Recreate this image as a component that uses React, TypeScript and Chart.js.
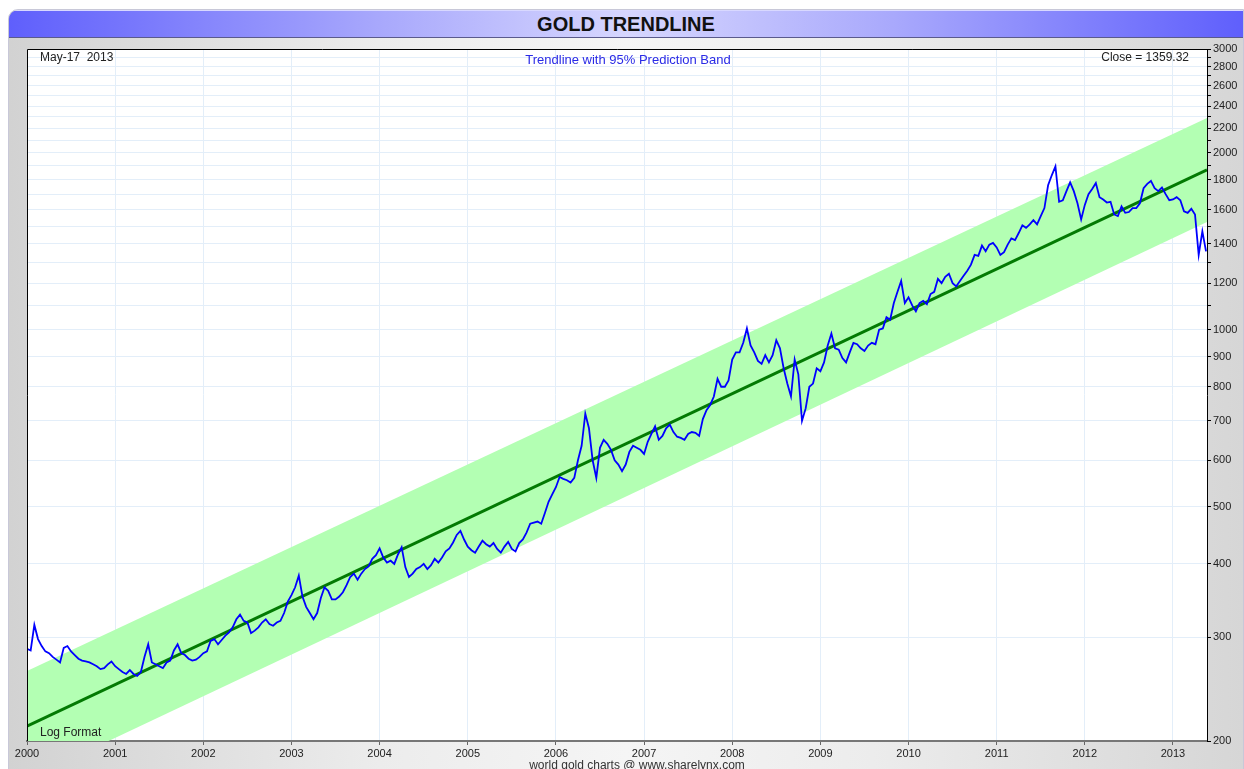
import React, { useEffect, useRef } from "react";
import { Chart, registerables } from "chart.js";

Chart.register(...registerables);

// Gold price, two readings per month (1st and 16th)
const price2000 = [287, 285, 315, 298, 290, 284, 282, 278, 275, 272, 288, 290, 284, 280, 276, 274, 273, 272, 270, 268, 265, 266, 270, 273];
const price2001 = [268, 265, 262, 260, 264, 260, 258, 262, 278, 292, 272, 270, 268, 266, 272, 274, 285, 292, 282, 280, 276, 274, 275, 278];
const price2002 = [282, 284, 296, 298, 292, 297, 302, 306, 312, 322, 328, 320, 318, 305, 308, 312, 318, 322, 316, 314, 318, 320, 330, 345];
const price2003 = [354, 365, 382, 352, 338, 330, 322, 330, 350, 365, 360, 348, 348, 352, 358, 368, 380, 385, 376, 385, 392, 396, 408, 414];
const price2004 = [425, 410, 402, 405, 400, 415, 427, 395, 380, 385, 392, 395, 400, 392, 398, 408, 402, 410, 420, 425, 435, 448, 455, 440];
const price2005 = [428, 422, 418, 428, 438, 432, 428, 434, 424, 418, 428, 436, 424, 420, 434, 440, 452, 468, 470, 472, 468, 488, 510, 525];
const price2006 = [540, 562, 558, 555, 550, 560, 600, 635, 720, 680, 600, 560, 630, 650, 640, 625, 600, 590, 575, 590, 620, 635, 630, 625];
const price2007 = [615, 645, 665, 685, 650, 660, 680, 690, 670, 658, 655, 650, 665, 670, 668, 660, 705, 730, 745, 770, 825, 800, 800, 820];
const price2008 = [890, 915, 915, 950, 1005, 940, 915, 885, 875, 905, 880, 905, 960, 930, 860, 810, 770, 890, 840, 700, 735, 800, 810, 860];
const price2009 = [850, 880, 940, 985, 930, 925, 895, 880, 915, 950, 945, 930, 920, 940, 950, 945, 1000, 1005, 1050, 1040, 1110, 1160, 1210, 1110];
const price2010 = [1135, 1100, 1075, 1110, 1120, 1105, 1150, 1160, 1220, 1200, 1230, 1245, 1200, 1185, 1210, 1235, 1260, 1290, 1340, 1335, 1390, 1360, 1395, 1405];
const price2011 = [1380, 1340, 1355, 1395, 1430, 1420, 1460, 1505, 1490, 1510, 1535, 1510, 1560, 1610, 1760, 1830, 1895, 1650, 1660, 1720, 1780, 1720, 1640, 1540];
const price2012 = [1630, 1700, 1735, 1775, 1680, 1665, 1645, 1650, 1570, 1560, 1620, 1580, 1585, 1610, 1610, 1640, 1740, 1770, 1790, 1740, 1720, 1745, 1700, 1660];
const price2013 = [1665, 1680, 1660, 1590, 1580, 1605, 1570, 1340, 1470, 1359];

const priceYears = [2000, 2001, 2002, 2003, 2004, 2005, 2006, 2007, 2008, 2009, 2010, 2011, 2012, 2013];
const priceSeries = [price2000, price2001, price2002, price2003, price2004, price2005, price2006, price2007, price2008, price2009, price2010, price2011, price2012, price2013];

// Trendline and 95% prediction band end points
const trendX = [2000, 2013.386];
const trendMid = [212, 1869];
const bandUpper = [263, 2290];
const bandLower = [172, 1524];

const xTickYears = [2000, 2001, 2002, 2003, 2004, 2005, 2006, 2007, 2008, 2009, 2010, 2011, 2012, 2013];
const yTickValues = [200, 300, 400, 500, 600, 700, 800, 900, 1000, 1100, 1200, 1300, 1400, 1500, 1600, 1700, 1800, 1900, 2000, 2100, 2200, 2300, 2400, 2500, 2600, 2700, 2800, 2900, 3000];
const yLabelValues = [200, 300, 400, 500, 600, 700, 800, 900, 1000, 1200, 1400, 1600, 1800, 2000, 2200, 2400, 2600, 2800, 3000];

const titleText = "GOLD TRENDLINE";
const subtitleText = "Trendline with 95% Prediction Band";
const dateText = "May-17  2013";
const closeText = "Close = 1359.32";
const logText = "Log Format";
const footerText = "world gold charts @ www.sharelynx.com";

const FONT = '"Liberation Sans", Arial, Helvetica, sans-serif';

export default function App() {
  const canvasRef = useRef<HTMLCanvasElement | null>(null);

  useEffect(() => {
    const canvas = canvasRef.current;
    if (!canvas) return;

    const goldData: { x: number; y: number }[] = [];
    priceSeries.forEach((arr, yi) => {
      arr.forEach((v, i) => goldData.push({ x: priceYears[yi] + i / 24, y: v }));
    });
    const pairs = (ys: number[]) => trendX.map((x, i) => ({ x, y: ys[i] }));

    const decor = {
      id: "decor",
      beforeDraw(chart: any) {
        const { ctx, chartArea: a } = chart;
        ctx.save();
        ctx.fillStyle = "#ffffff";
        ctx.fillRect(a.left, a.top, a.right - a.left, a.bottom - a.top);
        ctx.restore();
      },
      afterDraw(chart: any) {
        const { ctx, chartArea: a } = chart;
        ctx.save();
        ctx.strokeStyle = "#000000";
        ctx.lineWidth = 1;
        ctx.beginPath();
        ctx.moveTo(a.left + 0.5, a.bottom);
        ctx.lineTo(a.left + 0.5, a.top + 0.5);
        ctx.lineTo(a.right, a.top + 0.5);
        ctx.stroke();

        ctx.textBaseline = "middle";
        ctx.font = `12px ${FONT}`;
        ctx.fillStyle = "#222";
        ctx.textAlign = "left";
        ctx.fillText(dateText, a.left + 13, a.top + 9);
        ctx.textAlign = "right";
        ctx.fillText(closeText, a.right - 18, a.top + 9);
        ctx.textAlign = "left";
        ctx.fillText(logText, a.left + 13, a.bottom - 8);

        ctx.font = `13px ${FONT}`;
        ctx.fillStyle = "#2a2ae6";
        ctx.textAlign = "center";
        ctx.fillText(subtitleText, 628, a.top + 11);

        ctx.font = `12px ${FONT}`;
        ctx.fillStyle = "#333";
        ctx.fillText(footerText, 637, 766);
        ctx.restore();
      },
    };

    const chart = new Chart(canvas, {
      type: "line",
      data: {
        datasets: [
          {
            label: "Gold",
            data: goldData,
            borderColor: "#0000ff",
            borderWidth: 1.8,
            pointRadius: 0,
            tension: 0,
            fill: false,
          },
          {
            label: "Trend",
            data: pairs(trendMid),
            borderColor: "#037a03",
            borderWidth: 3,
            pointRadius: 0,
            fill: false,
          },
          {
            label: "Upper",
            data: pairs(bandUpper),
            borderColor: "rgba(0,0,0,0)",
            borderWidth: 0,
            pointRadius: 0,
            backgroundColor: "#b3ffb3",
            fill: "+1",
          },
          {
            label: "Lower",
            data: pairs(bandLower),
            borderColor: "rgba(0,0,0,0)",
            borderWidth: 0,
            pointRadius: 0,
            fill: false,
          },
        ],
      },
      options: {
        responsive: false,
        animation: false,
        devicePixelRatio: 1,
        events: [],
        layout: { padding: { left: 27, top: 49, right: 0, bottom: 0 } },
        plugins: {
          legend: { display: false },
          tooltip: { enabled: false },
          title: { display: false },
        },
        scales: {
          x: {
            type: "linear",
            position: "bottom",
            min: 2000,
            max: 2013.386,
            afterBuildTicks: (axis: any) => {
              axis.ticks = xTickYears.map((v) => ({ value: v }));
            },
            afterFit: (axis: any) => {
              axis.height = 28;
            },
            ticks: {
              autoSkip: false,
              maxRotation: 0,
              padding: 2,
              color: "#222",
              font: { family: FONT, size: 11 },
              callback: (v: any) => String(v),
            },
            grid: {
              color: "#e3eef9",
              lineWidth: 1,
              tickLength: 4,
              tickColor: "#666",
            },
            border: { color: "#777", width: 2 },
          },
          y: {
            type: "logarithmic",
            position: "right",
            min: 200,
            max: 3000,
            afterBuildTicks: (axis: any) => {
              axis.ticks = yTickValues.map((v) => ({ value: v }));
            },
            afterFit: (axis: any) => {
              axis.width = 37;
            },
            ticks: {
              autoSkip: false,
              padding: 2,
              color: "#222",
              font: { family: FONT, size: 11 },
              callback: (v: any) => (yLabelValues.includes(Number(v)) ? String(v) : ""),
            },
            grid: {
              color: "#e3eef9",
              lineWidth: 1,
              tickLength: 4,
              tickColor: "#000",
            },
            border: { color: "#000", width: 1 },
          },
        },
      },
      plugins: [decor],
    } as any);

    return () => chart.destroy();
  }, []);

  return (
    <div style={{ position: "fixed", left: 0, top: 0, width: 1244, height: 769, overflow: "hidden", background: "#fff" }}>
      <div
        style={{
          position: "absolute",
          left: 8,
          top: 9,
          width: 1236,
          height: 770,
          borderRadius: "10px 0 0 0",
          border: "1px solid #c8c8d8",
          boxSizing: "border-box",
          background: "linear-gradient(to right, #d2d2d2 0%, #ececec 30%, #f5f5f5 50%, #ececec 70%, #d6d6d6 100%)",
          overflow: "hidden",
        }}
      >
        <div
          style={{
            position: "absolute",
            left: 0,
            top: 0,
            right: 0,
            height: 28,
            background: "linear-gradient(to right, #5f5ffc 0%, #a8a8fc 30%, #d6d6fe 50%, #a8a8fc 72%, #5f5ffc 100%)",
            borderTop: "1px solid #d8d8ff",
            borderBottom: "1px solid #5a5a8c",
            boxSizing: "border-box",
            textAlign: "center",
            fontFamily: FONT,
            fontWeight: "bold",
            fontSize: 20,
            lineHeight: "26px",
            color: "#111",
          }}
        >
          {titleText}
        </div>
      </div>
      <canvas ref={canvasRef} width={1244} height={769} style={{ position: "absolute", left: 0, top: 0, width: 1244, height: 769 }} />
    </div>
  );
}
